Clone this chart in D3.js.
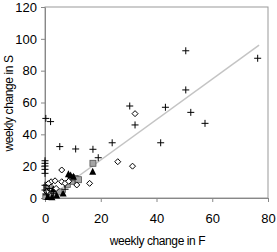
<!DOCTYPE html>
<html lang="en">
<head>
<meta charset="utf-8">
<title>weekly change</title>
<script src="https://cdnjs.cloudflare.com/ajax/libs/d3/7.8.5/d3.min.js"></script>
<style>
  body { margin: 0; background: #fff; }
  .tick text { font-family: "Liberation Sans", Arial, sans-serif; font-size: 13px; fill: #000; }
  .axis path, .axis line { stroke: #888; }
  .title { font-family: "Liberation Sans", Arial, sans-serif; font-size: 12px; letter-spacing: -0.4px; fill: #000; }
</style>
</head>
<body>
<script>
// values: [change in F, change in S]
var crosses = [[0.3,50],[2,48],[5.3,32.3],[11,30.8],[17.2,30.6],[19.1,25.3],[24.1,34.7],
  [30.4,57.8],[32.3,45.9],[41.5,34.7],[43.2,57],[50.5,92.5],[50.5,67.9],[52.3,53.8],
  [57.4,46.9],[76.3,87.8],[0,23.4],[0,21.8],[0,20.1],[0,18],[0,15.5],[7.2,5.5],
  [0,8],[0,5],[0.5,2],[1.5,6],[3,3]];
var diamonds = [[32.3,53],[26.1,22.8],[31.4,20],[16,9.2],[6,17.6],[11.4,8.2],[6,10.2],
  [7.2,9.2],[2.2,10.2],[3.6,10.8],[0.6,4],[1.2,9],[8.5,10.5],[4,6]];
var triangles = [[17.1,16.5],[8.4,15],[9.2,14.2],[10.2,13.4],[1,0.6],[2.5,0.4],[4.2,1.6],
  [6.5,2.8],[3,5.5]];
var squares = [[17.2,21.8],[10.8,12.2],[9.6,10.5],[12,11.5],[8,8.6],[0.5,6.5],[1,3],
  [2,1.5],[3.5,2.5],[5,3.8],[1.5,8],[0.3,1],[9.5,12.8]];
var trend = [[1.2,0],[76.8,96]];
var xTicks = [0,20,40,60,80];
var yTicks = [0,20,40,60,80,100,120];

var width = 277, height = 252;
var margin = {top: 7, right: 9, bottom: 54, left: 45};
var w = width - margin.left - margin.right,
    h = height - margin.top - margin.bottom;

var svg = d3.select("body").append("svg")
    .attr("width", width)
    .attr("height", height);

var g = svg.append("g")
    .attr("transform", "translate(" + margin.left + "," + margin.top + ")");

var x = d3.scaleLinear().domain([0, 80]).range([0, w]);
var y = d3.scaleLinear().domain([0, 120]).range([h, 0]);

// plot frame
g.append("rect")
    .attr("x", 0).attr("y", 0)
    .attr("width", w).attr("height", h)
    .attr("fill", "none")
    .attr("stroke", "#999");

g.append("g")
    .attr("class", "axis")
    .attr("transform", "translate(0," + h + ")")
    .call(d3.axisBottom(x).tickValues(xTicks).tickSize(4).tickPadding(12).tickSizeOuter(0));

g.append("g")
    .attr("class", "axis")
    .call(d3.axisLeft(y).tickValues(yTicks).tickSize(4).tickPadding(4).tickSizeOuter(0));

// trend line
g.append("path")
    .datum(trend)
    .attr("fill", "none")
    .attr("stroke", "#c4c4c4")
    .attr("stroke-width", 1.5)
    .attr("d", d3.line().x(function(d) { return x(d[0]); }).y(function(d) { return y(d[1]); }));

function place(d) { return "translate(" + x(d[0]) + "," + y(d[1]) + ")"; }

g.selectAll(".sq").data(squares).enter().append("rect")
    .attr("class", "sq")
    .attr("x", -3).attr("y", -3).attr("width", 6).attr("height", 6)
    .attr("transform", place)
    .attr("fill", "#a6a6a6")
    .attr("stroke", "#555")
    .attr("stroke-width", 0.8);

g.selectAll(".tri").data(triangles).enter().append("path")
    .attr("class", "tri")
    .attr("d", "M0,-4L3.5,3L-3.5,3Z")
    .attr("transform", place)
    .attr("fill", "#000");

g.selectAll(".dia").data(diamonds).enter().append("path")
    .attr("class", "dia")
    .attr("d", "M0,-3L3,0L0,3L-3,0Z")
    .attr("transform", place)
    .attr("fill", "#fff")
    .attr("stroke", "#000")
    .attr("stroke-width", 1);

g.selectAll(".cr").data(crosses).enter().append("path")
    .attr("class", "cr")
    .attr("d", "M-3.5,0H3.5M0,-3.5V3.5")
    .attr("transform", place)
    .attr("stroke", "#000")
    .attr("stroke-width", 1);

// axis titles
svg.append("text")
    .attr("class", "title")
    .attr("x", margin.left + w / 2 + 1)
    .attr("y", 245)
    .attr("text-anchor", "middle")
    .text("weekly change in F");

svg.append("text")
    .attr("class", "title")
    .attr("transform", "translate(13," + (margin.top + h / 2 + 1) + ") rotate(-90)")
    .attr("text-anchor", "middle")
    .text("weekly change in S");
</script>
</body>
</html>
